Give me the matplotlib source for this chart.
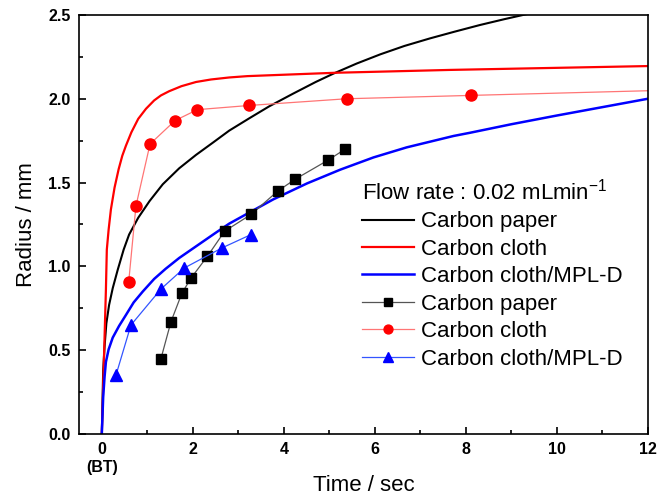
import matplotlib
matplotlib.use("Agg")
import matplotlib.pyplot as plt
from matplotlib.ticker import MultipleLocator, FormatStrFormatter

plt.rcParams['font.family'] = ['Liberation Sans', 'DejaVu Sans']
plt.rcParams['mathtext.default'] = 'regular'

# model curves
paper_fit_t = [0, 0.03, 0.06, 0.10, 0.16, 0.24, 0.35, 0.48, 0.60, 0.80, 1.05, 1.34,
               1.70, 2.07, 2.45, 2.80, 3.25, 3.68, 4.20, 4.70, 5.09, 5.60, 6.12,
               6.65, 7.21, 7.75, 8.31, 8.85, 9.34, 10.0]
paper_fit_r = [0, 0.38, 0.52, 0.66, 0.77, 0.87, 0.98, 1.10, 1.19, 1.29, 1.39, 1.49,
               1.585, 1.665, 1.74, 1.81, 1.885, 1.955, 2.03, 2.10, 2.15, 2.21, 2.265,
               2.315, 2.36, 2.40, 2.44, 2.475, 2.505, 2.54]

cloth_fit_t = [0, 0.09, 0.11, 0.15, 0.20, 0.28, 0.37, 0.45, 0.53, 0.65, 0.80, 0.97,
               1.15, 1.30, 1.48, 1.75, 2.07, 2.40, 2.80, 3.20, 3.68, 5.13, 7.65, 12.0]
cloth_fit_r = [0, 0.86, 1.10, 1.22, 1.34, 1.47, 1.58, 1.66, 1.72, 1.80, 1.88, 1.94,
               1.99, 2.02, 2.045, 2.075, 2.10, 2.115, 2.127, 2.135, 2.14, 2.155, 2.172, 2.195]

mpl_fit_t = [0, 0.03, 0.06, 0.09, 0.15, 0.24, 0.38, 0.53, 0.70, 0.90, 1.15, 1.40,
             1.70, 2.10, 2.50, 2.80, 3.20, 3.77, 4.51, 5.24, 5.97, 6.70, 7.73, 8.09,
             9.0, 10.0, 11.0, 12.0]
mpl_fit_r = [0, 0.22, 0.34, 0.43, 0.505, 0.575, 0.645, 0.71, 0.785, 0.85, 0.925, 0.985,
             1.05, 1.125, 1.20, 1.255, 1.315, 1.40, 1.495, 1.577, 1.65, 1.71, 1.778, 1.797,
             1.848, 1.90, 1.95, 2.00]

# measured points
paper_t = [1.30, 1.52, 1.76, 1.96, 2.32, 2.70, 3.28, 3.87, 4.25, 4.98, 5.35]
paper_r = [0.45, 0.67, 0.84, 0.93, 1.06, 1.21, 1.31, 1.45, 1.52, 1.635, 1.70]

cloth_t = [0.59, 0.75, 1.06, 1.61, 2.10, 3.24, 5.38, 8.11, 13.0]
cloth_r = [0.905, 1.36, 1.73, 1.87, 1.935, 1.96, 2.00, 2.02, 2.055]

mpl_t = [0.31, 0.64, 1.30, 1.81, 2.64, 3.28]
mpl_r = [0.35, 0.65, 0.865, 0.99, 1.11, 1.19]

labels = ["Carbon paper", "Carbon cloth", "Carbon cloth/MPL-D"]
xticks = [0, 2, 4, 6, 8, 10, 12]

fig = plt.figure(figsize=(6.7, 4.98), dpi=100)
ax = fig.add_axes([0.118, 0.1285, 0.849, 0.8415])

# fitted lines
ax.plot(paper_fit_t, paper_fit_r, color='black', lw=1.5, label=labels[0])
ax.plot(cloth_fit_t, cloth_fit_r, color='#ff0000', lw=1.6, label=labels[1])
ax.plot(mpl_fit_t, mpl_fit_r, color='#0000ff', lw=1.8, label=labels[2])

# measured
ax.plot(paper_t, paper_r, color='#555555', lw=0.9, marker='s', ms=7,
        mfc='black', mec='black', label=labels[0])
ax.plot(cloth_t, cloth_r, color='#ff7575', lw=0.9, marker='o', ms=8,
        mfc='#ff0000', mec='#ff0000', label=labels[1])
ax.plot(mpl_t, mpl_r, color='#3355ff', lw=0.9, marker='^', ms=8.5,
        mfc='#0000ff', mec='#0000ff', label=labels[2])

ax.set_xlim(-0.5, 12)
ax.set_ylim(0, 2.5)
ax.set_xticks(xticks)
ax.xaxis.set_minor_locator(MultipleLocator(1))
ax.yaxis.set_major_locator(MultipleLocator(0.5))
ax.yaxis.set_minor_locator(MultipleLocator(0.25))
ax.yaxis.set_major_formatter(FormatStrFormatter('%.1f'))

ax.tick_params(which='both', direction='in', top=False, right=False, width=1.2)
ax.tick_params(which='major', length=5, labelsize=11.5, pad=6)
ax.tick_params(which='minor', length=3)
for lab in ax.get_xticklabels() + ax.get_yticklabels():
    lab.set_fontweight('bold')
for sp in ax.spines.values():
    sp.set_linewidth(1.2)

# breakthrough marker under the 0 tick
ax.text(0, -0.062, "(BT)", transform=ax.get_xaxis_transform(), ha='center',
        va='top', fontsize=11.5, fontweight='bold')

ax.set_xlabel("Time / sec", fontsize=16)
ax.xaxis.set_label_coords(0.5, -0.098)
ax.set_ylabel("Radius / mm", fontsize=16, labelpad=8)

leg = ax.legend(title="Flow rate : 0.02 mLmin$^{-1}$", title_fontsize=16,
                fontsize=16, frameon=False, loc='upper left',
                bbox_to_anchor=(362 / 670, (498 - 179) / 498),
                bbox_transform=fig.transFigure, borderpad=0, borderaxespad=0,
                handlelength=2.35, handletextpad=0.3, labelspacing=0.29,
                markerscale=0.8, alignment='left')

fig.savefig("out.png", dpi=100)
